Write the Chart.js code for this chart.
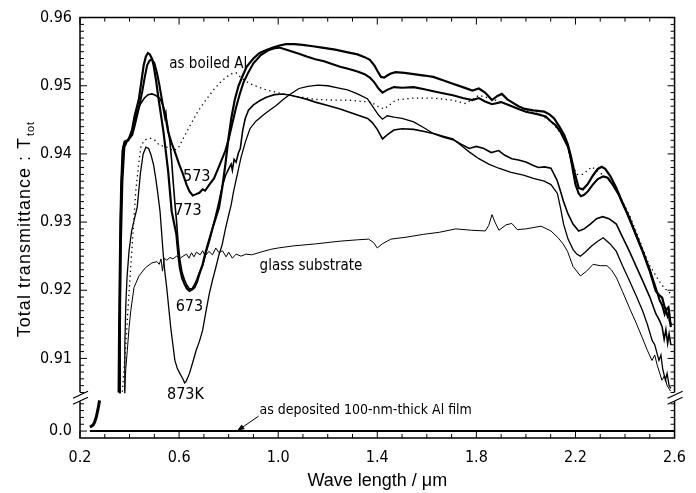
<!DOCTYPE html>
<html><head><meta charset="utf-8">
<script src="https://cdn.jsdelivr.net/npm/chart.js@4.4.1/dist/chart.umd.min.js"></script>
<style>html,body{margin:0;padding:0;background:#fff}</style>
</head><body>
<canvas id="c" width="696" height="493"></canvas>
<script>
// ---------- tick labels ----------
const xTicks = [0.2, 0.6, 1.0, 1.4, 1.8, 2.2, 2.6];
const yTicks = [0.91, 0.92, 0.93, 0.94, 0.95, 0.96];
const yLowTicks = [0.0];

// ---------- series (wavelength µm, total transmittance) ----------
const T573 = [[0.358,0.905],[0.361,0.918],[0.364,0.93],[0.368,0.936],[0.375,0.941],[0.385,0.9418],[0.40,0.9423],[0.411,0.9428],[0.421,0.9442],[0.431,0.9457],[0.441,0.9474],[0.451,0.9491],[0.461,0.9512],[0.471,0.953],[0.481,0.9537],[0.49,0.9539],[0.5,0.9533],[0.51,0.952],[0.52,0.9502],[0.53,0.9481],[0.537,0.9466],[0.543,0.9454],[0.546,0.9458],[0.549,0.9446],[0.556,0.9432],[0.57,0.9416],[0.583,0.9403],[0.6,0.9385],[0.616,0.937],[0.63,0.9355],[0.642,0.9345],[0.655,0.9339],[0.669,0.9341],[0.682,0.9343],[0.695,0.9348],[0.705,0.9346],[0.722,0.9355],[0.741,0.9364],[0.757,0.9378],[0.774,0.9393],[0.787,0.9405],[0.801,0.9423],[0.815,0.9445],[0.83,0.9468],[0.845,0.9488],[0.86,0.9505],[0.88,0.952],[0.9,0.9533],[0.93,0.9545],[0.96,0.9552],[0.985,0.9555],[1.005,0.9556],[1.04,0.9552],[1.084,0.9547],[1.115,0.9543],[1.15,0.9539],[1.185,0.9536],[1.217,0.9532],[1.25,0.9528],[1.282,0.9525],[1.32,0.9521],[1.349,0.9517],[1.37,0.9512],[1.388,0.9505],[1.405,0.9496],[1.421,0.949],[1.44,0.9494],[1.467,0.9498],[1.5,0.9497],[1.547,0.9498],[1.59,0.9495],[1.626,0.9492],[1.665,0.9489],[1.705,0.9486],[1.745,0.9482],[1.784,0.9479],[1.81,0.9482],[1.835,0.9477],[1.863,0.9473],[1.9,0.9476],[1.943,0.947],[1.97,0.9466],[2.0,0.9462],[2.05,0.9458],[2.08,0.9455],[2.1,0.9448],[2.12,0.9442],[2.14,0.9432],[2.155,0.9421],[2.17,0.941],[2.18,0.9395],[2.19,0.9375],[2.2,0.9355],[2.213,0.9342],[2.222,0.9338],[2.235,0.934],[2.25,0.9345],[2.27,0.9355],[2.29,0.9363],[2.312,0.9367],[2.33,0.9365],[2.35,0.9355],[2.375,0.934],[2.4,0.932],[2.425,0.9298],[2.45,0.9277],[2.475,0.9254],[2.5,0.923],[2.52,0.9208],[2.54,0.9185],[2.55,0.9178],[2.56,0.9165],[2.567,0.9172],[2.575,0.9175],[2.58,0.9155],[2.585,0.915]];

const T673 = [[0.356,0.905],[0.358,0.915],[0.362,0.927],[0.366,0.935],[0.372,0.9405],[0.38,0.9418],[0.395,0.942],[0.41,0.9435],[0.42,0.9455],[0.438,0.9481],[0.457,0.953],[0.466,0.9543],[0.474,0.9548],[0.482,0.9546],[0.49,0.954],[0.497,0.953],[0.507,0.9508],[0.517,0.9481],[0.527,0.9457],[0.537,0.9432],[0.546,0.9405],[0.556,0.9374],[0.563,0.9345],[0.57,0.9316],[0.58,0.9298],[0.589,0.9282],[0.596,0.9255],[0.603,0.9233],[0.612,0.9218],[0.622,0.9209],[0.632,0.9202],[0.642,0.9199],[0.652,0.9201],[0.662,0.9204],[0.672,0.9212],[0.682,0.9224],[0.695,0.9238],[0.708,0.9257],[0.72,0.9272],[0.735,0.9291],[0.748,0.9306],[0.761,0.9321],[0.774,0.935],[0.787,0.9385],[0.80,0.9425],[0.812,0.9455],[0.825,0.948],[0.84,0.95],[0.857,0.9515],[0.873,0.9528],[0.9,0.954],[0.925,0.9548],[0.95,0.9552],[0.979,0.9556],[1.005,0.9559],[1.032,0.9561],[1.065,0.9561],[1.098,0.956],[1.14,0.9558],[1.177,0.9556],[1.23,0.9553],[1.281,0.9549],[1.32,0.9546],[1.349,0.9542],[1.37,0.9538],[1.388,0.953],[1.40,0.9522],[1.415,0.9513],[1.428,0.9512],[1.44,0.9515],[1.455,0.9518],[1.474,0.952],[1.51,0.9519],[1.547,0.9517],[1.59,0.9515],[1.626,0.9513],[1.665,0.9508],[1.705,0.9503],[1.745,0.9498],[1.784,0.9493],[1.81,0.9496],[1.835,0.949],[1.863,0.9479],[1.885,0.9485],[1.903,0.9488],[1.925,0.948],[1.943,0.9476],[1.97,0.947],[1.995,0.9466],[2.03,0.9464],[2.074,0.9462],[2.095,0.9458],[2.114,0.9452],[2.135,0.944],[2.154,0.9428],[2.168,0.9415],[2.18,0.9399],[2.195,0.9375],[2.213,0.935],[2.23,0.9348],[2.25,0.9356],[2.27,0.9368],[2.29,0.9378],[2.306,0.9381],[2.32,0.9378],[2.34,0.9368],[2.365,0.935],[2.39,0.9328],[2.418,0.9306],[2.445,0.928],[2.471,0.9257],[2.5,0.9228],[2.524,0.9199],[2.54,0.9192],[2.55,0.9189],[2.558,0.9178],[2.565,0.917],[2.572,0.9162],[2.578,0.9168],[2.585,0.9146]];

const T773 = [[0.36,0.905],[0.363,0.918],[0.366,0.927],[0.372,0.936],[0.38,0.941],[0.39,0.9418],[0.405,0.9428],[0.418,0.9445],[0.431,0.9462],[0.445,0.9474],[0.46,0.9482],[0.475,0.9487],[0.49,0.9488],[0.505,0.9486],[0.523,0.9481],[0.533,0.9473],[0.543,0.9462],[0.553,0.9443],[0.563,0.9418],[0.57,0.939],[0.576,0.936],[0.583,0.9328],[0.59,0.930],[0.596,0.927],[0.603,0.9245],[0.612,0.9226],[0.622,0.9215],[0.632,0.9207],[0.642,0.9202],[0.652,0.9202],[0.662,0.9208],[0.672,0.9216],[0.682,0.9226],[0.695,0.9236],[0.708,0.9255],[0.722,0.9272],[0.735,0.9291],[0.748,0.931],[0.761,0.933],[0.774,0.9352],[0.787,0.9368],[0.80,0.9378],[0.81,0.9385],[0.815,0.9376],[0.822,0.9392],[0.83,0.9388],[0.84,0.9402],[0.847,0.9408],[0.857,0.9435],[0.867,0.9452],[0.88,0.9464],[0.9,0.9472],[0.925,0.9478],[0.952,0.9483],[0.985,0.9487],[1.018,0.9488],[1.05,0.9486],[1.084,0.9483],[1.117,0.948],[1.15,0.9476],[1.2,0.9471],[1.25,0.9466],[1.282,0.9462],[1.32,0.9457],[1.361,0.9452],[1.38,0.9446],[1.40,0.9436],[1.421,0.9422],[1.44,0.9428],[1.467,0.9435],[1.5,0.9437],[1.547,0.9436],[1.59,0.9433],[1.626,0.943],[1.665,0.9425],[1.705,0.9421],[1.74,0.9414],[1.771,0.9408],[1.8,0.9411],[1.83,0.9408],[1.86,0.9402],[1.89,0.9405],[1.915,0.9398],[1.943,0.9393],[1.97,0.9391],[2.0,0.9388],[2.03,0.9383],[2.05,0.938],[2.075,0.9381],[2.101,0.9379],[2.125,0.9362],[2.14,0.9345],[2.152,0.933],[2.17,0.9312],[2.19,0.9297],[2.213,0.9287],[2.235,0.929],[2.26,0.9297],[2.285,0.9305],[2.31,0.9308],[2.335,0.9305],[2.365,0.9297],[2.39,0.9278],[2.418,0.9257],[2.445,0.9235],[2.471,0.9214],[2.5,0.919],[2.524,0.9166],[2.54,0.9155],[2.55,0.9146],[2.558,0.9128],[2.565,0.9142],[2.572,0.9122],[2.578,0.9136],[2.585,0.912]];

const T873 = [[0.378,0.905],[0.381,0.912],[0.385,0.918],[0.39,0.922],[0.398,0.9258],[0.408,0.9286],[0.418,0.9302],[0.431,0.9322],[0.444,0.9372],[0.455,0.94],[0.466,0.941],[0.477,0.9408],[0.487,0.9398],[0.497,0.9384],[0.505,0.9366],[0.513,0.9345],[0.523,0.9316],[0.53,0.9282],[0.537,0.9248],[0.543,0.9225],[0.55,0.9204],[0.558,0.9175],[0.566,0.9146],[0.575,0.912],[0.583,0.9097],[0.593,0.9085],[0.603,0.9078],[0.612,0.9072],[0.618,0.9068],[0.622,0.9064],[0.628,0.9066],[0.635,0.9072],[0.642,0.9078],[0.655,0.9094],[0.669,0.9112],[0.682,0.9125],[0.695,0.9141],[0.708,0.9168],[0.722,0.9195],[0.735,0.9215],[0.748,0.9233],[0.761,0.9252],[0.774,0.9267],[0.787,0.929],[0.80,0.931],[0.81,0.9325],[0.82,0.9345],[0.835,0.937],[0.85,0.9395],[0.868,0.9418],[0.886,0.9437],[0.91,0.9448],[0.94,0.9457],[0.965,0.9464],[0.992,0.9471],[1.02,0.948],[1.05,0.9488],[1.084,0.9496],[1.12,0.9499],[1.16,0.9501],[1.2,0.95],[1.24,0.9497],[1.28,0.9494],[1.32,0.9488],[1.36,0.9481],[1.388,0.9466],[1.405,0.9457],[1.421,0.9451],[1.44,0.9456],[1.467,0.9454],[1.5,0.9452],[1.547,0.9447],[1.59,0.9438],[1.626,0.943],[1.665,0.9426],[1.705,0.9422],[1.74,0.9412],[1.771,0.9403],[1.81,0.9393],[1.85,0.9385],[1.89,0.9379],[1.94,0.9373],[1.99,0.9369],[2.03,0.9364],[2.074,0.936],[2.101,0.9355],[2.127,0.9342],[2.14,0.932],[2.152,0.9297],[2.17,0.9275],[2.19,0.926],[2.205,0.9253],[2.22,0.925],[2.24,0.9256],[2.265,0.9265],[2.29,0.9272],[2.312,0.9277],[2.34,0.9268],[2.365,0.9257],[2.39,0.9236],[2.418,0.9214],[2.445,0.9192],[2.471,0.917],[2.49,0.915],[2.51,0.9126],[2.52,0.912],[2.537,0.9097],[2.545,0.9105],[2.552,0.9085],[2.563,0.9068],[2.57,0.9078],[2.578,0.906],[2.585,0.9056]];

const Tglass = [[0.38,0.9052],[0.385,0.9085],[0.391,0.9112],[0.398,0.9145],[0.405,0.917],[0.418,0.9204],[0.438,0.9221],[0.464,0.9233],[0.49,0.924],[0.51,0.9242],[0.52,0.9238],[0.527,0.9246],[0.533,0.9228],[0.54,0.9247],[0.55,0.9244],[0.563,0.9248],[0.575,0.9246],[0.59,0.925],[0.605,0.9247],[0.616,0.925],[0.63,0.9253],[0.64,0.9247],[0.65,0.9255],[0.66,0.9249],[0.67,0.9256],[0.685,0.9252],[0.695,0.9258],[0.705,0.925],[0.72,0.9257],[0.735,0.9252],[0.748,0.9262],[0.761,0.9255],[0.775,0.9258],[0.79,0.9249],[0.8,0.9256],[0.815,0.9247],[0.83,0.9253],[0.85,0.925],[0.87,0.9253],[0.893,0.9252],[0.93,0.9256],[0.97,0.926],[1.0,0.9262],[1.06,0.9265],[1.15,0.9268],[1.25,0.9272],[1.32,0.9274],[1.365,0.9275],[1.385,0.927],[1.40,0.9262],[1.42,0.9268],[1.455,0.9275],[1.52,0.9278],[1.586,0.9282],[1.65,0.9285],[1.717,0.929],[1.78,0.9288],[1.836,0.9287],[1.85,0.9295],[1.863,0.9311],[1.875,0.93],[1.891,0.9288],[1.92,0.9296],[1.943,0.9298],[1.965,0.9289],[2.0,0.929],[2.061,0.9294],[2.101,0.9287],[2.13,0.9277],[2.15,0.9268],[2.168,0.9257],[2.19,0.9235],[2.22,0.9221],[2.245,0.9228],[2.271,0.9238],[2.3,0.9236],[2.327,0.9236],[2.345,0.923],[2.366,0.9218],[2.39,0.9198],[2.418,0.9174],[2.445,0.9152],[2.469,0.9131],[2.49,0.9112],[2.509,0.9097],[2.52,0.9105],[2.53,0.909],[2.549,0.9068],[2.56,0.9075],[2.57,0.906],[2.584,0.9052]];

const TasBoiled = [[0.371,0.9051],[0.385,0.912],[0.395,0.918],[0.405,0.9235],[0.415,0.929],[0.425,0.9345],[0.438,0.9389],[0.447,0.9413],[0.464,0.9421],[0.484,0.9423],[0.5,0.9421],[0.52,0.9413],[0.55,0.941],[0.575,0.9405],[0.596,0.9408],[0.62,0.9425],[0.645,0.9442],[0.675,0.9462],[0.71,0.948],[0.741,0.9495],[0.775,0.9508],[0.807,0.9517],[0.83,0.9519],[0.85,0.9512],[0.886,0.9503],[0.92,0.9498],[0.952,0.9494],[1.018,0.9488],[1.08,0.9484],[1.15,0.948],[1.22,0.9479],[1.281,0.9479],[1.34,0.9477],[1.375,0.9476],[1.40,0.947],[1.428,0.9466],[1.45,0.9472],[1.474,0.9479],[1.547,0.9482],[1.626,0.9482],[1.7,0.9479],[1.756,0.9474],[1.785,0.948],[1.81,0.9486],[1.85,0.9482],[1.9,0.9476],[1.97,0.9466],[2.05,0.9459],[2.1,0.9448],[2.127,0.9437],[2.15,0.9425],[2.167,0.9413],[2.18,0.9392],[2.195,0.9378],[2.207,0.937],[2.23,0.937],[2.25,0.9376],[2.266,0.9381],[2.3,0.9372],[2.339,0.9362],[2.365,0.9348],[2.39,0.933],[2.418,0.931],[2.444,0.9287],[2.47,0.9262],[2.497,0.9238],[2.52,0.9224],[2.537,0.9214],[2.555,0.9205],[2.576,0.9197],[2.59,0.9195]];

// lower (broken) segment of the y axis
const TuvEdge = [[0.2396,0.0006],[0.246,0.0007],[0.253,0.0009],[0.259,0.0013],[0.266,0.0021],[0.272,0.0031],[0.279,0.0045]];
const TasDeposited = [[0.2396,0.0],[2.6,0.0]];

// text annotations, in data units
const notes = [
  {text:'as boiled Al', x:0.5604, y:0.95315, axis:'y', align:'left', size:15},
  {text:'573', x:0.6713, y:0.9367, axis:'y', align:'center', size:16},
  {text:'773', x:0.6356, y:0.93172, axis:'y', align:'center', size:16},
  {text:'673', x:0.6416, y:0.91758, axis:'y', align:'center', size:16},
  {text:'873K', x:0.6257, y:0.9046, axis:'y', align:'center', size:16},
  {text:'glass substrate', x:0.9248, y:0.92356, axis:'y', align:'left', size:15},
  {text:'as deposited 100-nm-thick Al film', x:0.9248, y:0.00306, axis:'yLow', align:'left', size:14}
];
const arrowNote = {from:[0.9208,0.00219], to:[0.8337,0.0]};

const NARROW = '"Liberation Sans Narrow","DejaVu Sans Condensed","Arial Narrow",sans-serif';
const REG = '"Liberation Sans","DejaVu Sans",Arial,sans-serif';

const pts = a => a.map(p => ({x:p[0], y:p[1]}));
function ds(label, arr, w, axis, dash){
  return {label, data:pts(arr), yAxisID:axis, borderColor:'#000', borderWidth:w,
    borderDash:dash||[], showLine:true, pointRadius:0, tension:0, fill:false};
}

const deco = {
  id:'deco',
  afterDraw(chart){
    const {ctx, chartArea:a, scales} = chart;
    const sx = scales.x, sy = scales.y, sl = scales.yLow;
    const brk = sy.bottom;
    ctx.save();
    ctx.strokeStyle = '#000';
    // frame with breaks
    ctx.lineWidth = 1.5;
    ctx.beginPath();
    ctx.moveTo(a.left, brk-5); ctx.lineTo(a.left, a.top); ctx.lineTo(a.right, a.top); ctx.lineTo(a.right, brk-5);
    ctx.moveTo(a.right, brk+4); ctx.lineTo(a.right, a.bottom); ctx.lineTo(a.left, a.bottom); ctx.lineTo(a.left, brk+4);
    ctx.stroke();
    // ticks (inward)
    ctx.lineWidth = 1;
    ctx.beginPath();
    for (let i=0;i<=24;i++){
      const px = sx.getPixelForValue(0.2+i*0.1); const L = i%4===0?7:4;
      ctx.moveTo(px,a.bottom); ctx.lineTo(px,a.bottom-L);
      ctx.moveTo(px,a.top); ctx.lineTo(px,a.top+L);
    }
    for (let i=0;i<=55;i++){
      const py = sy.getPixelForValue(0.905+i*0.001); const L = i%10===5?7:4;
      ctx.moveTo(a.left,py); ctx.lineTo(a.left+L,py);
      ctx.moveTo(a.right,py); ctx.lineTo(a.right-L,py);
    }
    for (let i=0;i<=4;i++){
      const py = sl.getPixelForValue(i*0.001); const L = i===0?7:4;
      ctx.moveTo(a.left,py); ctx.lineTo(a.left+L,py);
      ctx.moveTo(a.right,py); ctx.lineTo(a.right-L,py);
    }
    ctx.stroke();
    // break marks
    ctx.lineWidth = 1.2;
    ctx.beginPath();
    for (const X of [a.left, a.right]){
      ctx.moveTo(X-7, brk+1); ctx.lineTo(X+8, brk-6);
      ctx.moveTo(X-7, brk+7); ctx.lineTo(X+8, brk);
    }
    ctx.stroke();
    // annotations
    ctx.fillStyle = '#000';
    ctx.textBaseline = 'middle';
    for (const n of notes){
      const s = scales[n.axis];
      ctx.font = n.size + 'px ' + NARROW;
      ctx.textAlign = n.align;
      ctx.fillText(n.text, sx.getPixelForValue(n.x), s.getPixelForValue(n.y));
    }
    // arrow
    const x1 = sx.getPixelForValue(arrowNote.from[0]), y1 = sl.getPixelForValue(arrowNote.from[1]);
    const x2 = sx.getPixelForValue(arrowNote.to[0]), y2 = sl.getPixelForValue(arrowNote.to[1]);
    ctx.lineWidth = 1;
    ctx.beginPath(); ctx.moveTo(x1,y1); ctx.lineTo(x2,y2); ctx.stroke();
    const ang = Math.atan2(y2-y1, x2-x1);
    ctx.beginPath();
    ctx.moveTo(x2,y2);
    ctx.lineTo(x2-8*Math.cos(ang-0.35), y2-8*Math.sin(ang-0.35));
    ctx.lineTo(x2-8*Math.cos(ang+0.35), y2-8*Math.sin(ang+0.35));
    ctx.closePath(); ctx.fill();
    // y title with subscript
    ctx.translate(30, 229);
    ctx.rotate(-Math.PI/2);
    ctx.textBaseline = 'alphabetic';
    ctx.textAlign = 'left';
    try { ctx.letterSpacing = '1px'; } catch(e) {}
    const main = 'Total transmittance : T';
    ctx.font = '18px ' + REG;
    const w1 = ctx.measureText(main).width;
    ctx.font = '11px ' + REG;
    const w2 = ctx.measureText('tot').width;
    const x0 = -(w1 + w2 + 1)/2;
    ctx.font = '18px ' + REG;
    ctx.fillText(main, x0, 0);
    ctx.font = '11px ' + REG;
    ctx.fillText('tot', x0 + w1 + 1, 4);
    ctx.restore();
  }
};

new Chart(document.getElementById('c'), {
  type:'scatter',
  data:{datasets:[
    ds('as boiled Al', TasBoiled, 1.3, 'y', [1.3,3.5]),
    ds('glass substrate', Tglass, 1, 'y'),
    ds('873K', T873, 1.3, 'y'),
    ds('773K', T773, 1.6, 'y'),
    ds('673K', T673, 2.2, 'y'),
    ds('573K', T573, 2.1, 'y'),
    ds('as deposited', TasDeposited, 2, 'yLow'),
    ds('uv edge', TuvEdge, 3, 'yLow')
  ]},
  options:{
    responsive:false, animation:false, devicePixelRatio:1,
    layout:{padding:{top:15,right:10,left:0,bottom:0}},
    plugins:{legend:{display:false}, tooltip:{enabled:false}},
    scales:{
      x:{type:'linear', position:'bottom', min:0.2, max:2.6,
        afterBuildTicks:s=>{s.ticks = xTicks.map(v=>({value:v}));},
        afterFit:s=>{s.height = 55;},
        grid:{display:false, drawTicks:false}, border:{display:false},
        ticks:{color:'#000', padding:10, font:{family:NARROW, size:16}, maxRotation:0,
          callback:v=>Number(v).toFixed(1)},
        title:{display:true, text:'Wave length / μm', color:'#000', font:{family:REG, size:18}, padding:{top:2,bottom:1}}
      },
      yLow:{type:'linear', position:'left', stack:'ys', stackWeight:41, min:-0.00102, max:0.00496,
        afterBuildTicks:s=>{s.ticks = yLowTicks.map(v=>({value:v}));},
        afterFit:s=>{s.width = 80;},
        grid:{display:false, drawTicks:false}, border:{display:false},
        ticks:{color:'#000', padding:8, font:{family:NARROW, size:16}, callback:v=>Number(v).toFixed(1)}
      },
      y:{type:'linear', position:'left', stack:'ys', stackWeight:382, min:0.9043, max:0.96,
        afterBuildTicks:s=>{s.ticks = yTicks.map(v=>({value:v}));},
        afterFit:s=>{s.width = 80;},
        grid:{display:false, drawTicks:false}, border:{display:false},
        ticks:{color:'#000', padding:8, font:{family:NARROW, size:16}, callback:v=>Number(v).toFixed(2)}
      }
    }
  },
  plugins:[deco]
});
</script>
</body></html>
